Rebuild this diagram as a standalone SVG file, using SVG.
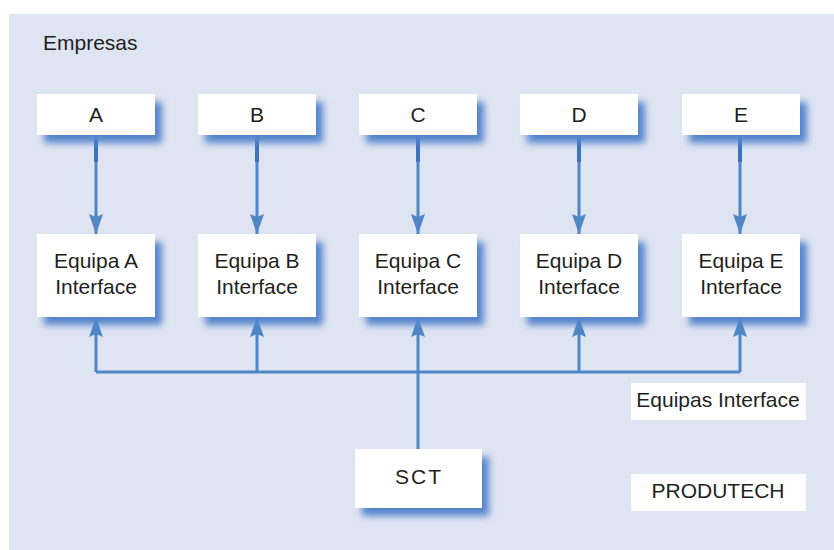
<svg xmlns="http://www.w3.org/2000/svg" width="834" height="550" viewBox="0 0 834 550">
<style>
.t{font-family:"Liberation Sans",Arial,sans-serif;font-size:21px;fill:#231f20;text-anchor:middle}
.box{fill:#ffffff;filter:url(#sh)}
.lbl{fill:#ffffff}
.c{stroke:#4f86c6;stroke-width:3;fill:none}
</style>
<defs>
<filter id="sh" x="-20%" y="-30%" width="150%" height="190%">
<feDropShadow dx="7" dy="8" stdDeviation="3.5" flood-color="#5585cc" flood-opacity="1"/>
</filter>
<marker id="ah" markerUnits="userSpaceOnUse" markerWidth="20" markerHeight="14" viewBox="0 0 20 14" refX="20" refY="7" orient="auto">
<path d="M0 0 L20 7 L0 14 L3 7 Z" fill="#4f86c6"/>
</marker>
</defs>
<rect x="9" y="14" width="825" height="536" fill="#dfe4f2"/>
<text class="t" x="43" y="50" style="text-anchor:start">Empresas</text>
<g id="connectors">
<path class="c" d="M96 135 V234" marker-end="url(#ah)"/>
<path class="c" d="M257 135 V234" marker-end="url(#ah)"/>
<path class="c" d="M418 135 V234" marker-end="url(#ah)"/>
<path class="c" d="M579 135 V234" marker-end="url(#ah)"/>
<path class="c" d="M740 135 V234" marker-end="url(#ah)"/>
<path class="c" d="M96 372 H740"/>
<path class="c" d="M96 372 V317" marker-end="url(#ah)"/>
<path class="c" d="M257 372 V317" marker-end="url(#ah)"/>
<path class="c" d="M579 372 V317" marker-end="url(#ah)"/>
<path class="c" d="M740 372 V317" marker-end="url(#ah)"/>
<path class="c" d="M418 449 V317" marker-end="url(#ah)"/>
<path d="M96 135 V162 M257 135 V162 M418 135 V162 M579 135 V162 M740 135 V162" stroke="#3f74bb" stroke-width="4"/>
</g>
<g id="A"><rect class="box" x="37" y="94" width="118" height="41"/><text class="t" x="96" y="122">A</text></g>
<g id="B"><rect class="box" x="198" y="94" width="118" height="41"/><text class="t" x="257" y="122">B</text></g>
<g id="C"><rect class="box" x="359" y="94" width="118" height="41"/><text class="t" x="418" y="122">C</text></g>
<g id="D"><rect class="box" x="520" y="94" width="118" height="41"/><text class="t" x="579" y="122">D</text></g>
<g id="E"><rect class="box" x="682" y="94" width="118" height="41"/><text class="t" x="741" y="122">E</text></g>
<g id="EqA"><rect class="box" x="37" y="234" width="118" height="83"/><text class="t" x="96" y="268">Equipa A</text><text class="t" x="96" y="294">Interface</text></g>
<g id="EqB"><rect class="box" x="198" y="234" width="118" height="83"/><text class="t" x="257" y="268">Equipa B</text><text class="t" x="257" y="294">Interface</text></g>
<g id="EqC"><rect class="box" x="359" y="234" width="118" height="83"/><text class="t" x="418" y="268">Equipa C</text><text class="t" x="418" y="294">Interface</text></g>
<g id="EqD"><rect class="box" x="520" y="234" width="118" height="83"/><text class="t" x="579" y="268">Equipa D</text><text class="t" x="579" y="294">Interface</text></g>
<g id="EqE"><rect class="box" x="682" y="234" width="118" height="83"/><text class="t" x="741" y="268">Equipa E</text><text class="t" x="741" y="294">Interface</text></g>
<g id="SCT"><rect class="box" x="355" y="449" width="127" height="59"/><text class="t" x="419" y="484" letter-spacing="2">SCT</text></g>
<g id="EquipasInterface"><rect class="lbl" x="631" y="383" width="175" height="37"/><text class="t" x="718" y="407">Equipas Interface</text></g>
<g id="PRODUTECH"><rect class="lbl" x="631" y="474" width="175" height="37"/><text class="t" x="718" y="498">PRODUTECH</text></g>
</svg>
